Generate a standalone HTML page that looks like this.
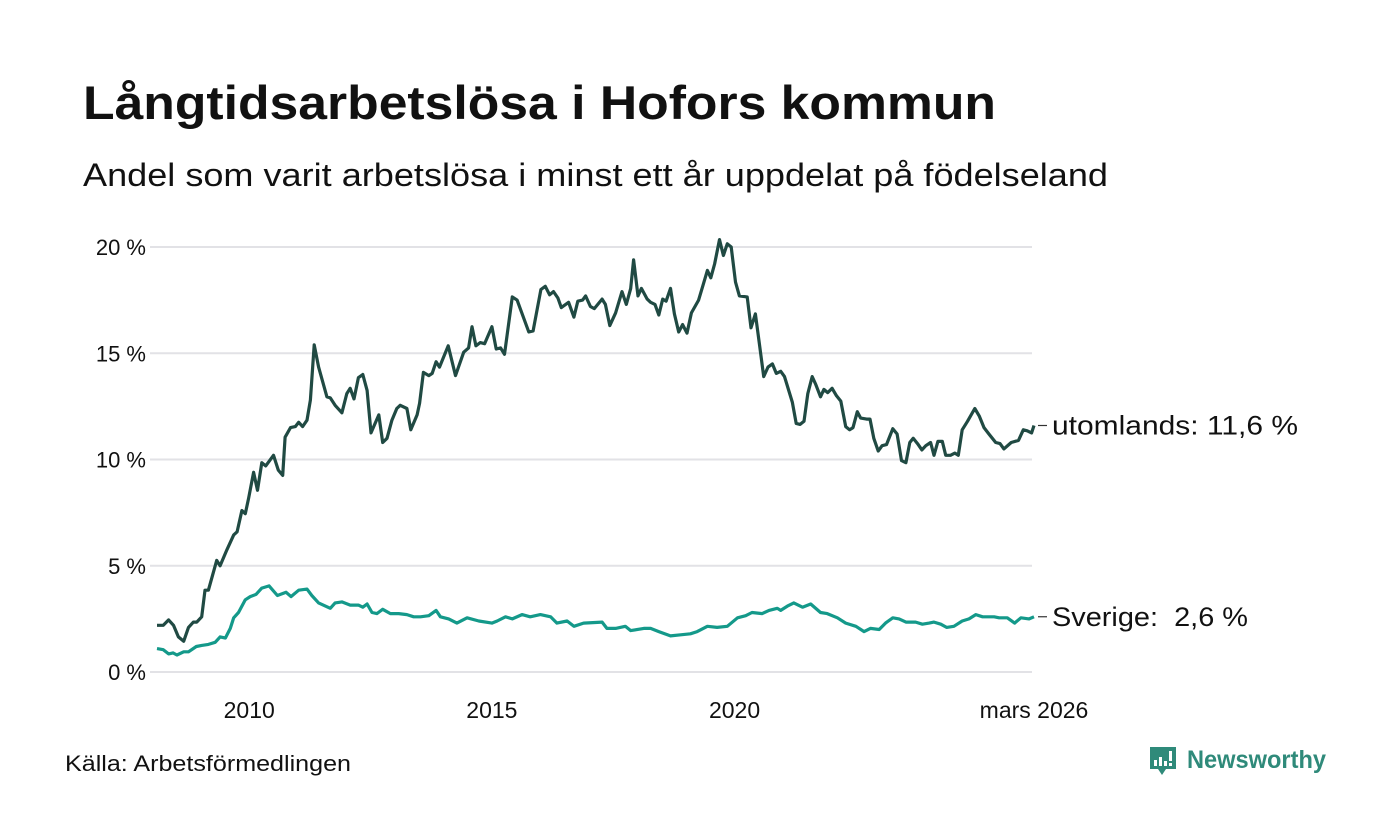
<!DOCTYPE html>
<html><head><meta charset="utf-8"><style>
html,body{margin:0;padding:0;background:#fff;}
svg{display:block;font-family:"Liberation Sans",sans-serif;}
</style></head><body>
<svg id="chart" width="1400" height="840" viewBox="0 0 1400 840" xmlns="http://www.w3.org/2000/svg">
<rect width="1400" height="840" fill="#fff"/>
<text x="83" y="119" font-size="47" font-weight="bold" fill="#111" textLength="913" lengthAdjust="spacingAndGlyphs">Långtidsarbetslösa i Hofors kommun</text>
<text x="83" y="186" font-size="32" fill="#111" textLength="1025" lengthAdjust="spacingAndGlyphs">Andel som varit arbetslösa i minst ett år uppdelat på födelseland</text>
<g id="grid"></g>
<g id="yticks"></g>
<g id="xticks"></g>
<g id="lines"></g>
<text x="65" y="771" font-size="22" fill="#111" textLength="286" lengthAdjust="spacingAndGlyphs">Källa: Arbetsförmedlingen</text>
<g>
<path d="M1150 747h26v22h-10l-4 6-4-6h-8z" fill="#2f8a7a"/>
<rect x="1154" y="760" width="3" height="6" fill="#fff"/><rect x="1159" y="757" width="3" height="9" fill="#fff"/><rect x="1164" y="761" width="3" height="5" fill="#fff"/><rect x="1169" y="751" width="3" height="10" fill="#fff"/><rect x="1169" y="763" width="3" height="3" fill="#fff"/>
<text x="1187" y="768" font-size="25" font-weight="bold" fill="#2f8a7a" textLength="139" lengthAdjust="spacingAndGlyphs">Newsworthy</text>
</g>
</svg>
<script>
const yTicks=[0,5,10,15,20];
const yTickLabels=["0 %","5 %","10 %","15 %","20 %"];
const xTicks=[2010,2015,2020,2026.17];
const xTickLabels=["2010","2015","2020","mars 2026"];
const utomDates=[2008.10,2008.23,2008.34,2008.44,2008.54,2008.65,2008.75,2008.85,2008.92,2009.02,2009.09,2009.16,2009.33,2009.40,2009.54,2009.68,2009.75,2009.85,2009.92,2009.99,2010.09,2010.17,2010.26,2010.34,2010.50,2010.60,2010.69,2010.74,2010.85,2010.95,2011.02,2011.10,2011.19,2011.26,2011.34,2011.43,2011.60,2011.67,2011.77,2011.91,2012.01,2012.08,2012.16,2012.25,2012.34,2012.43,2012.51,2012.67,2012.75,2012.84,2012.94,2013.04,2013.11,2013.25,2013.33,2013.46,2013.51,2013.59,2013.70,2013.77,2013.85,2013.92,2014.10,2014.25,2014.42,2014.52,2014.59,2014.67,2014.76,2014.85,2015.00,2015.09,2015.18,2015.26,2015.42,2015.52,2015.76,2015.85,2016.01,2016.10,2016.19,2016.27,2016.36,2016.43,2016.58,2016.69,2016.77,2016.87,2016.93,2017.03,2017.11,2017.27,2017.34,2017.43,2017.55,2017.68,2017.77,2017.86,2017.92,2018.01,2018.08,2018.20,2018.27,2018.36,2018.44,2018.52,2018.59,2018.68,2018.76,2018.85,2018.93,2019.02,2019.11,2019.26,2019.35,2019.44,2019.51,2019.59,2019.69,2019.77,2019.85,2019.93,2020.02,2020.10,2020.26,2020.34,2020.43,2020.52,2020.60,2020.69,2020.78,2020.86,2020.95,2021.03,2021.19,2021.27,2021.35,2021.43,2021.51,2021.60,2021.67,2021.77,2021.84,2021.92,2022.01,2022.10,2022.19,2022.29,2022.37,2022.44,2022.53,2022.60,2022.72,2022.79,2022.87,2022.96,2023.04,2023.13,2023.26,2023.35,2023.44,2023.53,2023.61,2023.68,2023.77,2023.86,2023.94,2024.04,2024.11,2024.19,2024.28,2024.35,2024.45,2024.54,2024.61,2024.69,2024.80,2024.95,2025.04,2025.14,2025.24,2025.38,2025.47,2025.55,2025.70,2025.85,2025.95,2026.03,2026.12,2026.17];
const utomValues=[2.2,2.2,2.45,2.2,1.65,1.45,2.1,2.35,2.35,2.6,3.85,3.85,5.25,5.0,5.75,6.45,6.6,7.6,7.45,8.2,9.4,8.55,9.85,9.7,10.2,9.5,9.25,11.05,11.5,11.55,11.75,11.55,11.85,12.8,15.4,14.35,12.95,12.9,12.55,12.2,13.1,13.35,12.85,13.85,14.0,13.25,11.25,12.1,10.8,11.0,11.85,12.4,12.55,12.4,11.4,12.1,12.65,14.1,13.95,14.05,14.6,14.35,15.35,13.95,15.05,15.25,16.25,15.35,15.5,15.45,16.25,15.2,15.25,14.95,17.65,17.5,16.0,16.05,18.0,18.15,17.75,17.9,17.6,17.15,17.4,16.7,17.45,17.5,17.7,17.2,17.1,17.55,17.3,16.3,16.9,17.9,17.3,18.05,19.4,17.7,18.05,17.55,17.4,17.3,16.8,17.55,17.45,18.05,16.85,16.0,16.35,15.95,16.9,17.5,18.2,18.9,18.55,19.2,20.35,19.6,20.15,20.0,18.35,17.7,17.65,16.2,16.85,15.3,13.9,14.35,14.5,14.05,14.15,13.9,12.7,11.7,11.65,11.8,13.1,13.9,13.55,12.95,13.3,13.15,13.35,13.0,12.75,11.55,11.4,11.5,12.25,11.95,11.9,11.9,11.0,10.4,10.65,10.7,11.45,11.2,9.95,9.85,10.8,11.0,10.75,10.45,10.65,10.8,10.2,10.85,10.85,10.2,10.2,10.3,10.2,11.4,11.8,12.4,12.05,11.5,11.2,10.8,10.75,10.5,10.8,10.9,11.4,11.35,11.25,11.6];
const sveDates=[2008.10,2008.23,2008.34,2008.43,2008.51,2008.65,2008.75,2008.91,2009.02,2009.16,2009.30,2009.40,2009.51,2009.61,2009.68,2009.78,2009.92,2010.02,2010.14,2010.26,2010.41,2010.58,2010.76,2010.86,2011.02,2011.19,2011.29,2011.43,2011.67,2011.77,2011.91,2012.08,2012.25,2012.34,2012.43,2012.53,2012.63,2012.75,2012.91,2013.08,2013.25,2013.39,2013.53,2013.70,2013.85,2013.94,2014.11,2014.28,2014.49,2014.73,2015.00,2015.11,2015.28,2015.42,2015.62,2015.79,2016.00,2016.21,2016.34,2016.55,2016.69,2016.89,2017.27,2017.37,2017.55,2017.75,2017.86,2018.13,2018.27,2018.44,2018.68,2018.89,2019.09,2019.23,2019.44,2019.64,2019.85,2020.06,2020.23,2020.36,2020.57,2020.71,2020.88,2020.95,2021.09,2021.22,2021.40,2021.57,2021.77,2021.91,2022.12,2022.29,2022.50,2022.67,2022.80,2022.98,2023.11,2023.26,2023.39,2023.53,2023.73,2023.87,2024.01,2024.11,2024.25,2024.37,2024.52,2024.69,2024.83,2024.97,2025.11,2025.35,2025.45,2025.62,2025.77,2025.90,2026.07,2026.17];
const sveValues=[1.1,1.05,0.85,0.9,0.8,0.95,0.95,1.2,1.25,1.3,1.4,1.65,1.6,2.05,2.55,2.8,3.4,3.55,3.65,3.95,4.05,3.6,3.75,3.55,3.85,3.9,3.6,3.25,3.0,3.25,3.3,3.15,3.15,3.05,3.2,2.8,2.75,2.95,2.75,2.75,2.7,2.6,2.6,2.65,2.9,2.6,2.5,2.3,2.55,2.4,2.3,2.4,2.6,2.5,2.7,2.6,2.7,2.6,2.3,2.4,2.15,2.3,2.35,2.05,2.05,2.15,1.95,2.05,2.05,1.9,1.7,1.75,1.8,1.9,2.15,2.1,2.15,2.55,2.65,2.8,2.75,2.9,3.0,2.9,3.1,3.25,3.05,3.2,2.8,2.75,2.55,2.3,2.15,1.9,2.05,2.0,2.3,2.55,2.5,2.35,2.35,2.25,2.3,2.35,2.25,2.1,2.15,2.4,2.5,2.7,2.6,2.6,2.55,2.55,2.3,2.55,2.5,2.6];
const endLabels=["utomlands: 11,6 %","Sverige:  2,6 %"];

const NS="http://www.w3.org/2000/svg";
const X0=157,X1=1034,D0=2008.10,D1=2026.17,Y0=672,PXV=21.25;
function xs(d){return X0+(d-D0)*(X1-X0)/(D1-D0);}
function ys(v){return Y0-v*PXV;}
function mk(tag,parent){const e=document.createElementNS(NS,tag);parent.appendChild(e);return e;}
const grid=document.getElementById('grid'),yt=document.getElementById('yticks'),xt=document.getElementById('xticks'),lines=document.getElementById('lines');
const CW=14.6; // approx char width for 22px labels in reference
yTicks.forEach((v,i)=>{
  const l=mk('line',grid);
  
  
  l.setAttribute('x1',150);l.setAttribute('x2',1032);l.setAttribute('y1',ys(v));l.setAttribute('y2',ys(v));
  l.setAttribute('stroke','#e2e2e6');l.setAttribute('stroke-width','2');
  const t=mk('text',yt);
  
  
  t.setAttribute('x',146);t.setAttribute('y',ys(v)+8);t.setAttribute('text-anchor','end');
  t.setAttribute('font-size','22');t.setAttribute('fill','#111');t.textContent=yTickLabels[i];
});
xTicks.forEach((d,i)=>{
  const t=mk('text',xt);
  
  
  t.setAttribute('x',xs(d));t.setAttribute('y',718);t.setAttribute('text-anchor','middle');
  t.setAttribute('font-size','23');t.setAttribute('fill','#111');t.textContent=xTickLabels[i];
});
function drawSeries(dates,vals,color,name,label,lw){
  const p=mk('path',lines);
  
  
  p.setAttribute('d',dates.map((d,i)=>(i?'L':'M')+xs(d).toFixed(1)+' '+ys(vals[i]).toFixed(1)).join(''));
  p.setAttribute('fill','none');p.setAttribute('stroke',color);p.setAttribute('stroke-width','3.2');p.setAttribute('stroke-linejoin','round');
  const last=vals[vals.length-1],ly=ys(last);
  const dl=mk('line',lines);
  
  
  dl.setAttribute('x1',1038);dl.setAttribute('x2',1047);dl.setAttribute('y1',ly);dl.setAttribute('y2',ly);dl.setAttribute('stroke','#333');dl.setAttribute('stroke-width','1.2');
  const t=mk('text',lines);
  
  
  t.setAttribute('x',1052);t.setAttribute('y',ly+9);t.setAttribute('font-size','27');t.setAttribute('fill','#111');
  t.setAttribute('textLength',lw);t.setAttribute('lengthAdjust','spacingAndGlyphs');
  t.setAttribute('xml:space','preserve');t.style.whiteSpace='pre';
  t.textContent=label;
}
drawSeries(sveDates,sveValues,'#14998a','sverige-line',endLabels[1],196);
drawSeries(utomDates,utomValues,'#204a43','utomlands-line',endLabels[0],246);
</script>
</body></html>
